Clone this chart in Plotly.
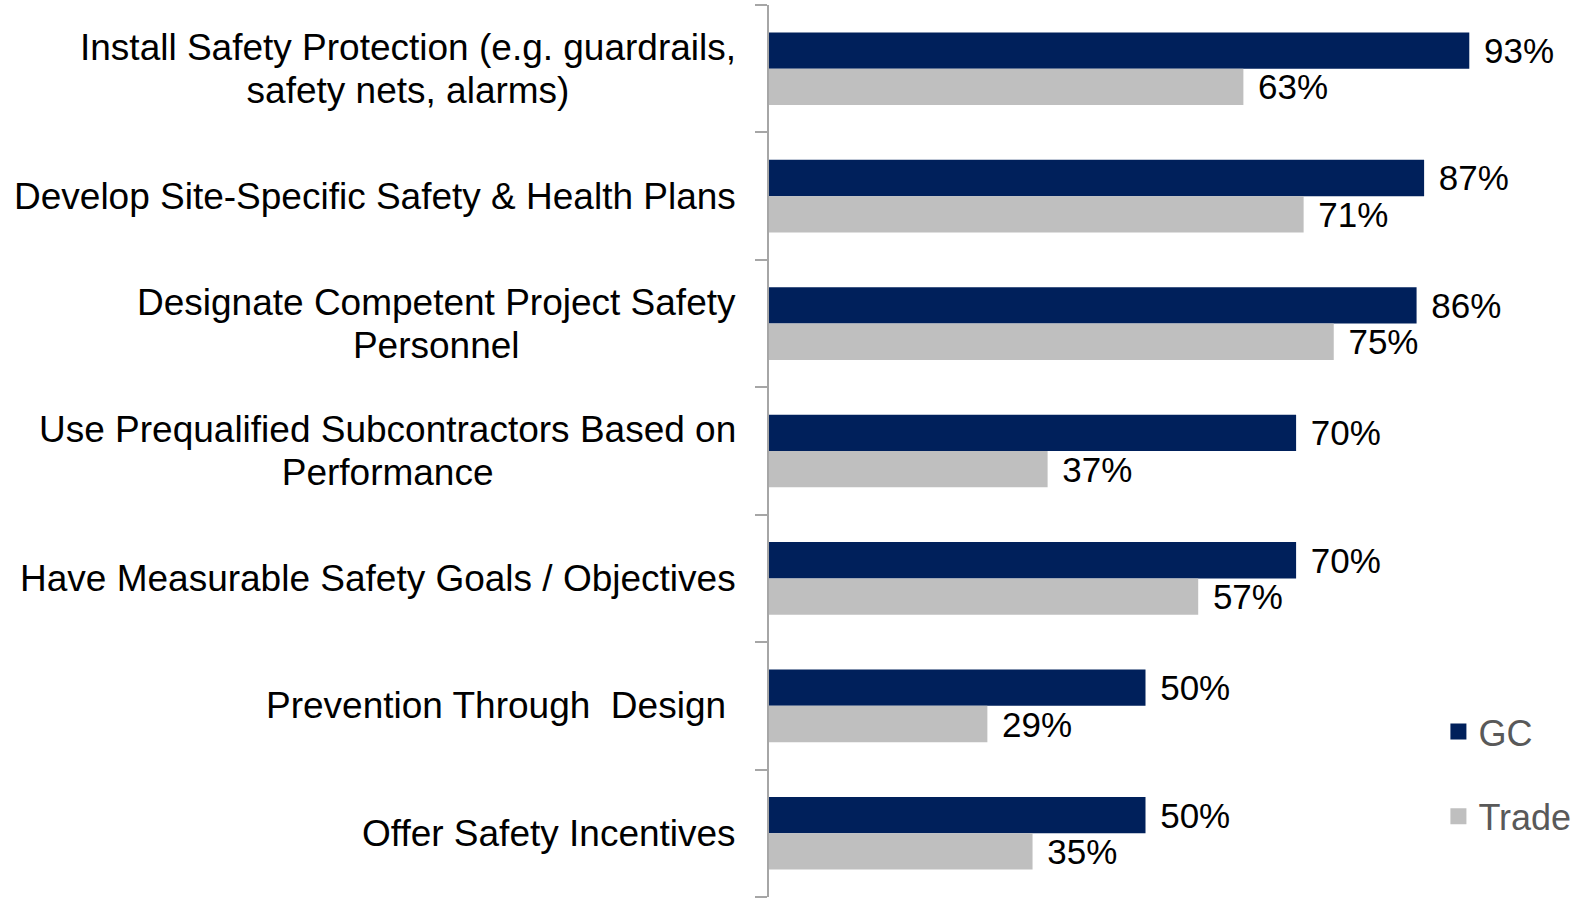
import plotly.graph_objects as go

categories = [
    "Install Safety Protection (e.g. guardrails,<br>safety nets, alarms)",
    "Develop Site-Specific Safety & Health Plans",
    "Designate Competent Project Safety<br>Personnel",
    "Use Prequalified Subcontractors Based on<br>Performance",
    "Have Measurable Safety Goals / Objectives",
    "Prevention Through\u00a0\u00a0Design\u00a0",
    "Offer Safety Incentives",
]
gc_values = [0.93, 0.87, 0.86, 0.70, 0.70, 0.50, 0.50]
trade_values = [0.63, 0.71, 0.75, 0.37, 0.57, 0.29, 0.35]
series_names = ["GC", "Trade"]
series_colors = ["#00205B", "#BFBFBF"]

FONT = "Liberation Sans, Arial, sans-serif"
LABEL_SIZE = 37
LINE_HEIGHT = 42.5
VALUE_SIZE = 35
LEGEND_SIZE = 36

fig = go.Figure()
for name, vals, color in zip(series_names, [gc_values, trade_values], series_colors):
    fig.add_trace(go.Bar(
        name=name,
        y=categories,
        x=vals,
        orientation="h",
        marker=dict(color=color, line=dict(width=0)),
        text=["\u2004" + f"{round(v*100)}%" for v in vals],
        textposition="outside",
        textfont=dict(family=FONT, size=VALUE_SIZE, color="#000000"),
        constraintext="none",
        cliponaxis=False,
        legendgroup=name,
        showlegend=False,
    ))
    # legend-only entry with a larger square swatch
    fig.add_trace(go.Scatter(
        name=name, x=[None], y=[None], mode="markers",
        marker=dict(symbol="square", size=19, color=color, line=dict(width=0)),
        legendgroup=name, showlegend=True, hoverinfo="skip",
    ))

# category labels: lines centred on each other, block right-aligned next to the axis
for cat in categories:
    lines = cat.split("<br>")
    styled = "<br>".join(f'<span style="font-size:{LABEL_SIZE}px">{l}</span>' for l in lines)
    fig.add_annotation(
        x=0, xref="paper", y=cat, yref="y",
        text=styled, showarrow=False,
        xanchor="right", yanchor="middle", align="center",
        xshift=-31,
        font=dict(family=FONT, size=LINE_HEIGHT / 1.3, color="#000000"),
    )

fig.update_layout(
    width=1583, height=900,
    margin=dict(l=769, r=61, t=5, b=3),
    paper_bgcolor="white", plot_bgcolor="white",
    barmode="group", bargap=0.43, bargroupgap=0,
    font=dict(family=FONT),
    showlegend=True,
    legend=dict(
        x=0.889, y=0.219, xanchor="left", yanchor="top",
        font=dict(family=FONT, size=LEGEND_SIZE, color="#595959"),
        traceorder="grouped", tracegroupgap=35,
        itemsizing="trace",
        bgcolor="rgba(0,0,0,0)",
    ),
    xaxis=dict(range=[0, 1], visible=False, fixedrange=True),
    yaxis=dict(
        autorange="reversed",
        showticklabels=False,
        showline=True, linecolor="#A6A6A6", linewidth=2,
        ticks="outside", ticklen=12, tickcolor="#A6A6A6", tickwidth=2,
        tickmode="array", tickvals=[i + 0.5 for i in range(-1, len(categories))],
        showgrid=False, zeroline=False,
        range=[len(categories) - 0.5, -0.5],
    ),
)

fig.write_html("out.html", config={"displayModeBar": False},
               post_script="document.body.style.margin='0px';")
